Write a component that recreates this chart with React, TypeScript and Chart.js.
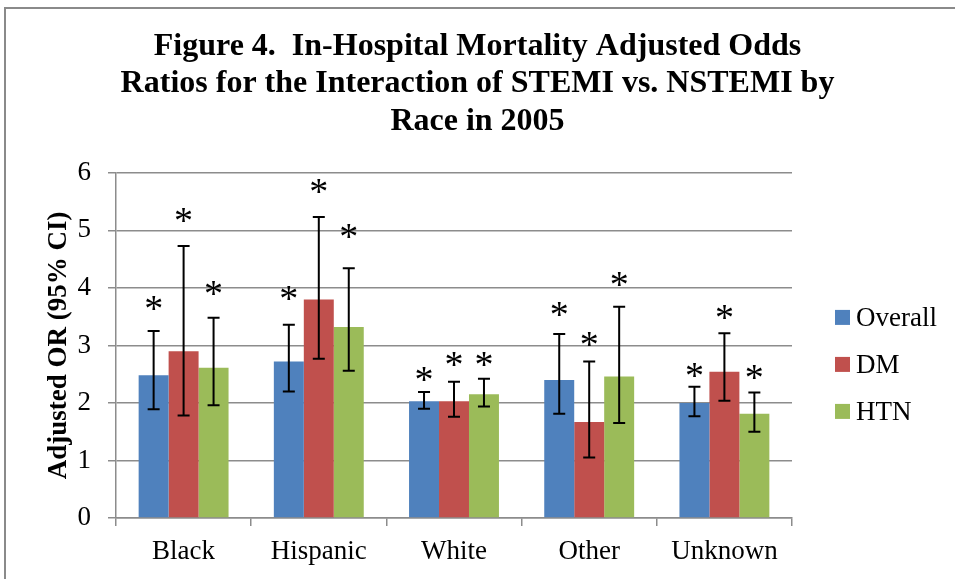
import React, { useEffect, useRef } from 'react';
import { Chart, registerables } from 'chart.js';

Chart.register(...registerables);

const TITLE_LINES = [
  'Figure 4.  In-Hospital Mortality Adjusted Odds',
  'Ratios for the Interaction of STEMI vs. NSTEMI by',
  'Race in 2005',
];
const Y_TITLE = 'Adjusted OR (95% CI)';
const CATEGORIES = ['Black', 'Hispanic', 'White', 'Other', 'Unknown'];
const Y_TICKS = [0, 1, 2, 3, 4, 5, 6];
const SERIES_NAMES = ['Overall', 'DM', 'HTN'];
const SERIES_COLORS = ['#4F81BD', '#C0504D', '#9BBB59'];

const OVERALL = [2.48, 2.72, 2.03, 2.40, 2.00];
const OVERALL_LOW = [1.89, 2.20, 1.90, 1.81, 1.77];
const OVERALL_HIGH = [3.25, 3.36, 2.19, 3.20, 2.28];
const OVERALL_STAR = [3.77, 3.95, 2.54, 3.67, 2.60];

const DM = [2.90, 3.80, 2.03, 1.67, 2.54];
const DM_LOW = [1.78, 2.77, 1.76, 1.05, 2.04];
const DM_HIGH = [4.73, 5.23, 2.37, 2.72, 3.21];
const DM_STAR = [5.30, 5.80, 2.79, 3.14, 3.62];

const HTN = [2.61, 3.32, 2.15, 2.46, 1.81];
const HTN_LOW = [1.96, 2.56, 1.94, 1.65, 1.50];
const HTN_HIGH = [3.48, 4.34, 2.42, 3.67, 2.18];
const HTN_STAR = [4.04, 5.02, 2.79, 4.19, 2.57];

const VALUES = [OVERALL, DM, HTN];
const LOWS = [OVERALL_LOW, DM_LOW, HTN_LOW];
const HIGHS = [OVERALL_HIGH, DM_HIGH, HTN_HIGH];
const STARS = [OVERALL_STAR, DM_STAR, HTN_STAR];

const FONT = '"Liberation Serif", "Times New Roman", serif';
const GRID = '#8c8c8c';

const overlayPlugin = {
  id: 'overlay',
  afterDatasetsDraw(chart: any) {
    const ctx = chart.ctx;
    const ys = chart.scales.y;
    ctx.save();
    chart.data.datasets.forEach((_ds: any, i: number) => {
      const meta = chart.getDatasetMeta(i);
      meta.data.forEach((el: any, j: number) => {
        const x = el.x;
        const yl = ys.getPixelForValue(LOWS[i][j]);
        const yh = ys.getPixelForValue(HIGHS[i][j]);
        ctx.strokeStyle = '#000';
        ctx.lineWidth = 2;
        ctx.beginPath();
        ctx.moveTo(x, yl);
        ctx.lineTo(x, yh);
        ctx.moveTo(x - 6, yl);
        ctx.lineTo(x + 6, yl);
        ctx.moveTo(x - 6, yh);
        ctx.lineTo(x + 6, yh);
        ctx.stroke();
        ctx.fillStyle = '#000';
        ctx.font = `38px ${FONT}`;
        ctx.textAlign = 'center';
        ctx.textBaseline = 'alphabetic';
        ctx.fillText('*', x, ys.getPixelForValue(STARS[i][j]) + 20);
      });
    });
    // legend
    const area = chart.chartArea;
    const lx = area.right + 43;
    const midY = (area.top + area.bottom) / 2 + 19;
    chart.data.datasets.forEach((ds: any, i: number) => {
      const cy = midY + (i - 1) * 47;
      ctx.fillStyle = ds.backgroundColor;
      ctx.fillRect(lx, cy - 7.5, 15, 15);
      ctx.fillStyle = '#000';
      ctx.font = `27px ${FONT}`;
      ctx.textAlign = 'left';
      ctx.textBaseline = 'middle';
      ctx.fillText(ds.label, lx + 21, cy + 1);
    });
    ctx.restore();
  },
};

export default function App() {
  const ref = useRef<HTMLCanvasElement>(null);
  useEffect(() => {
    if (!ref.current) return;
    const chart = new Chart(ref.current, {
      type: 'bar',
      data: {
        labels: CATEGORIES,
        datasets: SERIES_NAMES.map((name, i) => ({
          label: name,
          data: VALUES[i],
          backgroundColor: SERIES_COLORS[i],
          borderWidth: 0,
          categoryPercentage: 0.665,
          barPercentage: 1,
        })),
      },
      options: {
        responsive: false,
        animation: false,
        layout: { padding: 0 },
        plugins: {
          legend: { display: false },
          tooltip: { enabled: false },
          title: {
            display: true,
            text: TITLE_LINES,
            color: '#000',
            font: { family: FONT, size: 32, weight: 'bold', lineHeight: 1.17 },
            padding: { top: 28, bottom: 32.5 },
          },
        },
        scales: {
          x: {
            grid: { drawOnChartArea: false, drawTicks: true, tickLength: 8, color: GRID, lineWidth: 1.5, offset: true },
            border: { color: GRID, width: 1.5 },
            ticks: { color: '#000', font: { family: FONT, size: 27 }, padding: 10 },
            afterFit: (s: any) => { s.height = 61; },
          },
          y: {
            min: 0,
            max: 6,
            afterBuildTicks: (s: any) => { s.ticks = Y_TICKS.map((v) => ({ value: v })); },
            grid: { color: GRID, lineWidth: 1.5, tickLength: 8 },
            border: { color: GRID, width: 1.5 },
            ticks: { color: '#000', font: { family: FONT, size: 27 }, padding: 17 },
            title: {
              display: true,
              text: Y_TITLE,
              color: '#000',
              font: { family: FONT, size: 27, weight: 'bold' },
              padding: { top: 43, bottom: 0 },
            },
            afterFit: (s: any) => { s.width = 116; },
          },
          legendSpace: {
            type: 'linear',
            position: 'right',
            display: true,
            grid: { display: false, drawOnChartArea: false },
            border: { display: false },
            ticks: { display: false },
            afterFit: (s: any) => { s.width = 163; },
          },
        },
      },
      plugins: [overlayPlugin],
    });
    return () => chart.destroy();
  }, []);
  return (
    <div style={{ position: 'absolute', left: 0, top: 0, width: 955, height: 579, background: '#fff' }}>
      <div style={{ position: 'absolute', left: 4, top: 7, width: 1000, height: 700, border: '2px solid #8a8a8a', boxSizing: 'border-box' }} />
      <canvas ref={ref} width={955} height={579} style={{ position: 'absolute', left: 0, top: 0, width: 955, height: 579 }} />
    </div>
  );
}
